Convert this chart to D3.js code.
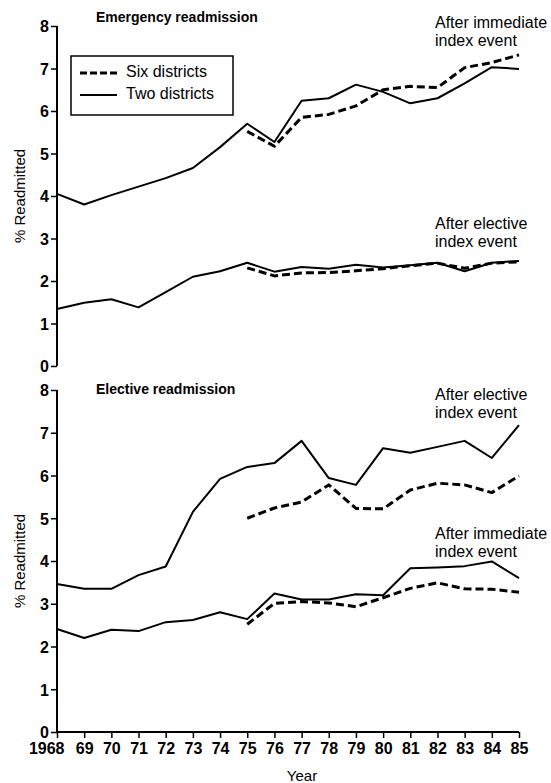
<!DOCTYPE html>
<html><head><meta charset="utf-8">
<script src="https://cdn.jsdelivr.net/npm/d3@7"></script>
<style>
html,body{margin:0;padding:0;background:#fff;}
svg{display:block;font-family:"Liberation Sans",Arial,sans-serif;}
</style></head>
<body>
<svg id="chart" width="551" height="783"></svg>
<script>
const years = [1968,1969,1970,1971,1972,1973,1974,1975,1976,1977,1978,1979,1980,1981,1982,1983,1984,1985];
const yearLabels = ["1968","69","70","71","72","73","74","75","76","77","78","79","80","81","82","83","84","85"];
const yTicks = [0,1,2,3,4,5,6,7,8];

// Emergency readmission
const emerImmTwo = [4.05,3.8,4.02,4.22,4.42,4.66,5.15,5.7,5.27,6.24,6.3,6.62,6.45,6.18,6.3,6.65,7.03,6.99];
const emerImmSix = [null,null,null,null,null,null,null,5.52,5.17,5.85,5.92,6.12,6.5,6.58,6.55,7.02,7.14,7.32];
const emerEleTwo = [1.34,1.49,1.57,1.38,1.74,2.1,2.23,2.43,2.22,2.33,2.29,2.38,2.32,2.37,2.43,2.23,2.43,2.47];
const emerEleSix = [null,null,null,null,null,null,null,2.31,2.12,2.19,2.2,2.24,2.29,2.36,2.42,2.3,2.42,2.45];

// Elective readmission
const electEleTwo = [3.46,3.35,3.35,3.67,3.87,5.15,5.92,6.2,6.29,6.81,5.94,5.78,6.64,6.53,6.67,6.81,6.41,7.18];
const electEleSix = [null,null,null,null,null,null,null,5.0,5.24,5.38,5.78,5.23,5.22,5.66,5.82,5.78,5.6,5.99];
const electImmTwo = [2.41,2.2,2.39,2.36,2.57,2.62,2.8,2.64,3.24,3.1,3.1,3.22,3.2,3.83,3.85,3.88,3.99,3.6];
const electImmSix = [null,null,null,null,null,null,null,2.52,3.01,3.05,3.02,2.93,3.14,3.36,3.49,3.35,3.34,3.27];

const svg = d3.select("#chart");
const x = d3.scaleLinear().domain([1968,1985]).range([57,519]);

function panel(top, bottom, title, titleY, series, notes){
  const y = d3.scaleLinear().domain([0,8]).range([bottom, top]);
  const g = svg.append("g");
  const ax = g.append("g").attr("transform","translate(57,0)")
    .call(d3.axisLeft(y).tickValues(yTicks).tickSize(6).tickPadding(2).tickFormat(d3.format("d")));
  ax.select(".domain").attr("stroke","#000").attr("stroke-width",2).attr("d",`M0,${top}V${bottom}`);
  ax.selectAll(".tick line").attr("stroke","#000").attr("stroke-width",1.5);
  ax.selectAll(".tick text").attr("fill","#000").style("font-size","16px").style("font-weight","bold").attr("dy","0.36em");
  g.append("text").attr("transform",`translate(21,${(top+bottom)/2}) rotate(-90)`)
    .attr("text-anchor","middle").attr("dominant-baseline","middle")
    .style("font-size","15px").text("% Readmitted");
  g.append("text").attr("x",96).attr("y",titleY).style("font-size","14px").style("font-weight","bold").text(title);
  const line = d3.line().defined(d=>d[1]!=null).x(d=>x(d[0])).y(d=>y(d[1]));
  series.forEach(s=>{
    g.append("path").datum(years.map((yr,i)=>[yr,s.values[i]]))
      .attr("d",line).attr("fill","none").attr("stroke","#000")
      .attr("stroke-width",s.dashed?3:2)
      .attr("stroke-dasharray",s.dashed?"8,4":null)
      .attr("stroke-linejoin","round");
  });
  notes.forEach(n=>{
    const t = g.append("text").attr("x",435).attr("y",n.y).style("font-size","16px");
    t.append("tspan").attr("x",435).text(n.l1);
    t.append("tspan").attr("x",435).attr("dy",18).text(n.l2);
  });
  return y;
}

panel(26,366,"Emergency readmission",22,[
  {values:emerImmTwo},{values:emerImmSix,dashed:true},
  {values:emerEleTwo},{values:emerEleSix,dashed:true}
],[
  {y:28,l1:"After immediate",l2:"index event"},
  {y:229,l1:"After elective",l2:"index event"}
]);

panel(390,732,"Elective readmission",394,[
  {values:electEleTwo},{values:electEleSix,dashed:true},
  {values:electImmTwo},{values:electImmSix,dashed:true}
],[
  {y:400,l1:"After elective",l2:"index event"},
  {y:539,l1:"After immediate",l2:"index event"}
]);

// x axis (bottom panel)
const xa = svg.append("g").attr("transform","translate(0,732)")
  .call(d3.axisBottom(x).tickValues(years).tickSize(6).tickPadding(5).tickFormat((d,i)=>yearLabels[i]));
xa.select(".domain").attr("stroke","#000").attr("stroke-width",2).attr("d","M57,0H519");
xa.selectAll(".tick line").attr("stroke","#000").attr("stroke-width",1.5);
xa.selectAll(".tick text").attr("fill","#000").style("font-size","16px").style("font-weight","bold");
xa.selectAll(".tick text").filter((d,i)=>i===0).attr("text-anchor","end").attr("dx","7");
svg.append("text").attr("x",302).attr("y",781).attr("text-anchor","middle").style("font-size","15px").text("Year");

// legend
const lg = svg.append("g");
lg.append("rect").attr("x",71).attr("y",56).attr("width",162).attr("height",59)
  .attr("fill","#fff").attr("stroke","#000").attr("stroke-width",1.5);
const legendItems = [{label:"Six districts",dashed:true,yy:73},{label:"Two districts",dashed:false,yy:95}];
legendItems.forEach(it=>{
  lg.append("line").attr("x1",80).attr("x2",117).attr("y1",it.yy).attr("y2",it.yy)
    .attr("stroke","#000").attr("stroke-width",it.dashed?3:2).attr("stroke-dasharray",it.dashed?"7,3":null);
  lg.append("text").attr("x",126).attr("y",it.yy).attr("dominant-baseline","middle").style("font-size","16px").text(it.label);
});
</script>
</body></html>
